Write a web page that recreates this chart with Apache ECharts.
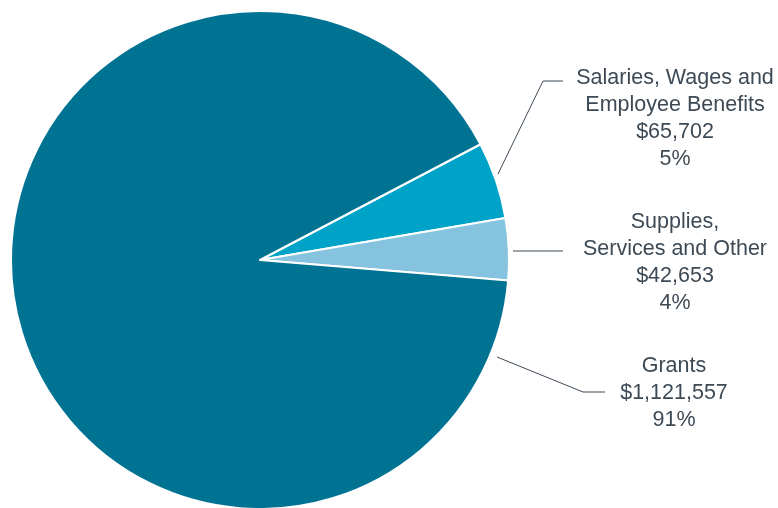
<!DOCTYPE html>
<html>
<head>
<meta charset="utf-8">
<script src="https://cdn.jsdelivr.net/npm/echarts@6/dist/echarts.min.js"></script>
<style>
  html, body { margin: 0; padding: 0; background: #ffffff; }
  #chart { width: 778px; height: 508px; }
</style>
</head>
<body>
<div id="chart"></div>
<script>
// Expense categories, amounts and their share of the total
const categories = ['Salaries, Wages and\nEmployee Benefits', 'Supplies,\nServices and Other', 'Grants'];
const amounts = [65702, 42653, 1121557];
const percents = [5, 4, 91];
const colors = ['#00a3c8', '#86c3df', '#007393'];

// Label anchor (text block centre) and leader line path for each slice
const labelSpots = [
  { x: 675, y: 119, line: [[498, 174], [543, 81], [563, 81]] },
  { x: 675, y: 263, line: [[513, 251], [540, 251], [563, 251]] },
  { x: 674, y: 393, line: [[497, 357], [583, 392], [605, 392]] }
];

const fmt = n => '$' + n.toLocaleString('en-US');

const chart = echarts.init(document.getElementById('chart'), null, { renderer: 'canvas' });

chart.setOption({
  animation: false,
  series: [{
    type: 'pie',
    center: [260, 260],
    radius: [0, 249],
    startAngle: 27.7,
    clockwise: true,
    avoidLabelOverlap: false,
    data: categories.map((name, i) => ({
      name: name,
      value: percents[i],
      itemStyle: { color: colors[i] }
    })),
    itemStyle: { borderColor: '#ffffff', borderWidth: 2 },
    label: {
      show: true,
      position: 'outside',
      formatter: p => p.name + '\n' + fmt(amounts[p.dataIndex]) + '\n' + percents[p.dataIndex] + '%',
      color: '#3d4a55',
      fontFamily: 'Liberation Sans, Arial, sans-serif',
      fontSize: 21.5,
      lineHeight: 27,
      align: 'center'
    },
    labelLine: {
      show: true,
      lineStyle: { color: '#3d4a55', width: 1 }
    },
    labelLayout: p => {
      const s = labelSpots[p.dataIndex];
      return {
        x: s.x,
        y: s.y,
        align: 'center',
        verticalAlign: 'middle',
        labelLinePoints: s.line
      };
    },
    emphasis: { disabled: true }
  }]
});
</script>
</body>
</html>
